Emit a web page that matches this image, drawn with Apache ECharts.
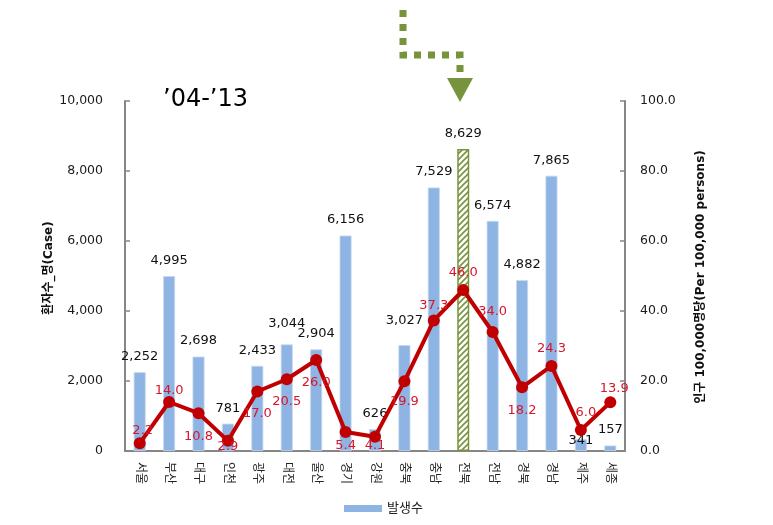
<!DOCTYPE html>
<html>
<head>
<meta charset="utf-8">
<script src="https://cdn.jsdelivr.net/npm/echarts@6/dist/echarts.min.js"></script>
<style>
html,body{margin:0;padding:0;background:#fff;}
#chart{width:773px;height:525px;}
</style>
</head>
<body>
<div id="chart"></div>
<script>
// ---- data ----
const categories = ['서울','부산','대구','인천','광주','대전','울산','경기','강원','충북','충남','전북','전남','경북','경남','제주','세종'];
const cases = [2252, 4995, 2698, 781, 2433, 3044, 2904, 6156, 626, 3027, 7529, 8629, 6574, 4882, 7865, 341, 157];
const rates = [2.2, 14.0, 10.8, 2.9, 17.0, 20.5, 26.0, 5.4, 4.1, 19.9, 37.3, 46.0, 34.0, 18.2, 24.3, 6.0, 13.9];
const highlightCategory = '전북';
const seriesNames = ['발생수', '인구 10만명당'];
const titleText = '\u201904-\u201913';
const leftAxisName = '환자수_명(Case)';
const rightAxisName = '인구 100,000명당(Per 100,000 persons)';

// ---- label placement (styling only) ----
const caseLabelShift = {'3,044': -5, '3,027': -9, '341': 17};
const rateLabelShift = [[3,-13],[0,-11],[0,23.5],[0,6],[0,22.5],[0,22],[0,23],[0,14],[0,9],[0,20],[0,-14.5],[0,-17],[0,-20],[0,23],[0,-17],[5,-17],[4,-14]];

const FONT = "'DejaVu Sans', 'Noto Sans CJK KR', sans-serif";
const fmt = v => v.toLocaleString('en-US');

// hatch pattern
const P = 6;
const pc = document.createElement('canvas');
pc.width = P; pc.height = P;
const g = pc.getContext('2d');
g.fillStyle = '#ffffff'; g.fillRect(0,0,P,P);
g.strokeStyle = '#77933C'; g.lineWidth = 1.6;
g.beginPath();
g.moveTo(-1,P+1); g.lineTo(P+1,-1);
g.moveTo(-1,1); g.lineTo(1,-1);
g.moveTo(P-1,P+1); g.lineTo(P+1,P-1);
g.stroke();

const barData = cases.map((v, i) => {
  const key = fmt(v);
  const item = {value: v, label: {offset: [0, caseLabelShift[key] || 0]}};
  if (categories[i] === highlightCategory) {
    item.itemStyle = {color: {image: pc, repeat: 'repeat'}, borderColor: '#77933C', borderWidth: 1.5};
  }
  return item;
});
const lineData = rates.map((v, i) => ({value: v, label: {offset: rateLabelShift[i]}}));

const chart = echarts.init(document.getElementById('chart'), null, {renderer: 'canvas'});
chart.setOption({
  animation: false,
  textStyle: {fontFamily: FONT},
  grid: {left: 125, right: 148, top: 101, bottom: 74, containLabel: false},
  legend: {
    data: [{name: seriesNames[0], itemStyle: {borderWidth: 0}}], left: 339, top: 497, itemWidth: 38, itemHeight: 7, itemGap: 10,
    icon: 'rect', textStyle: {fontSize: 13, color: '#222', fontFamily: FONT}
  },
  xAxis: {
    type: 'category', data: categories, boundaryGap: true,
    axisLine: {lineStyle: {color: '#868686', width: 2}},
    axisTick: {show: false},
    axisLabel: {rotate: -90, margin: 11, fontSize: 12, color: '#222', fontFamily: FONT}
  },
  yAxis: [
    {
      type: 'value', min: 0, max: 10000, interval: 2000, position: 'left',
      axisLine: {show: true, lineStyle: {color: '#868686', width: 2}},
      axisTick: {show: true, inside: true, length: 5, lineStyle: {color: '#868686', width: 1.5}},
      splitLine: {show: false},
      axisLabel: {margin: 22, fontSize: 12.5, color: '#1a1a1a', formatter: v => fmt(v)}
    },
    {
      type: 'value', min: 0, max: 100, interval: 20, position: 'right',
      axisLine: {show: true, lineStyle: {color: '#868686', width: 2}},
      axisTick: {show: true, inside: true, length: 5, lineStyle: {color: '#868686', width: 1.5}},
      splitLine: {show: false},
      axisLabel: {margin: 15, fontSize: 12.5, color: '#1a1a1a', formatter: v => v.toFixed(1)}
    }
  ],
  series: [
    {
      name: seriesNames[0], type: 'bar', yAxisIndex: 0, data: barData, barWidth: 12,
      itemStyle: {color: '#8EB4E3', borderColor: '#C6D9F1', borderWidth: 0.8},
      label: {show: true, position: 'top', distance: 9, fontSize: 13, color: '#111', formatter: p => fmt(p.value)},
      z: 2
    },
    {
      name: seriesNames[1], type: 'line', yAxisIndex: 1, data: lineData,
      lineStyle: {color: '#C00000', width: 4},
      itemStyle: {color: '#C00000'},
      symbol: 'circle', symbolSize: 12,
      label: {show: true, position: 'inside', fontSize: 13, color: '#D9152B', formatter: p => p.value.toFixed(1)},
      z: 3
    }
  ],
  graphic: [
    {type: 'text', left: 163, top: 88, style: {text: titleText, font: '24px ' + FONT, fill: '#000'}},
    {type: 'text', x: 49, y: 268, rotation: Math.PI / 2,
     style: {text: leftAxisName, font: 'bold 12px ' + FONT, fill: '#111', align: 'center', verticalAlign: 'middle'}},
    {type: 'text', x: 701, y: 277, rotation: Math.PI / 2,
     style: {text: rightAxisName, font: 'bold 12px ' + FONT, fill: '#111', align: 'center', verticalAlign: 'middle'}},
    {type: 'polyline', shape: {points: [[403,10],[403,55],[460,55],[460,72]]},
     style: {stroke: '#77933C', lineWidth: 7, lineDash: [7,7], fill: null}},
    {type: 'polygon', shape: {points: [[447,78],[473,78],[460,102]]}, style: {fill: '#77933C'}}
  ]
});
</script>
</body>
</html>
